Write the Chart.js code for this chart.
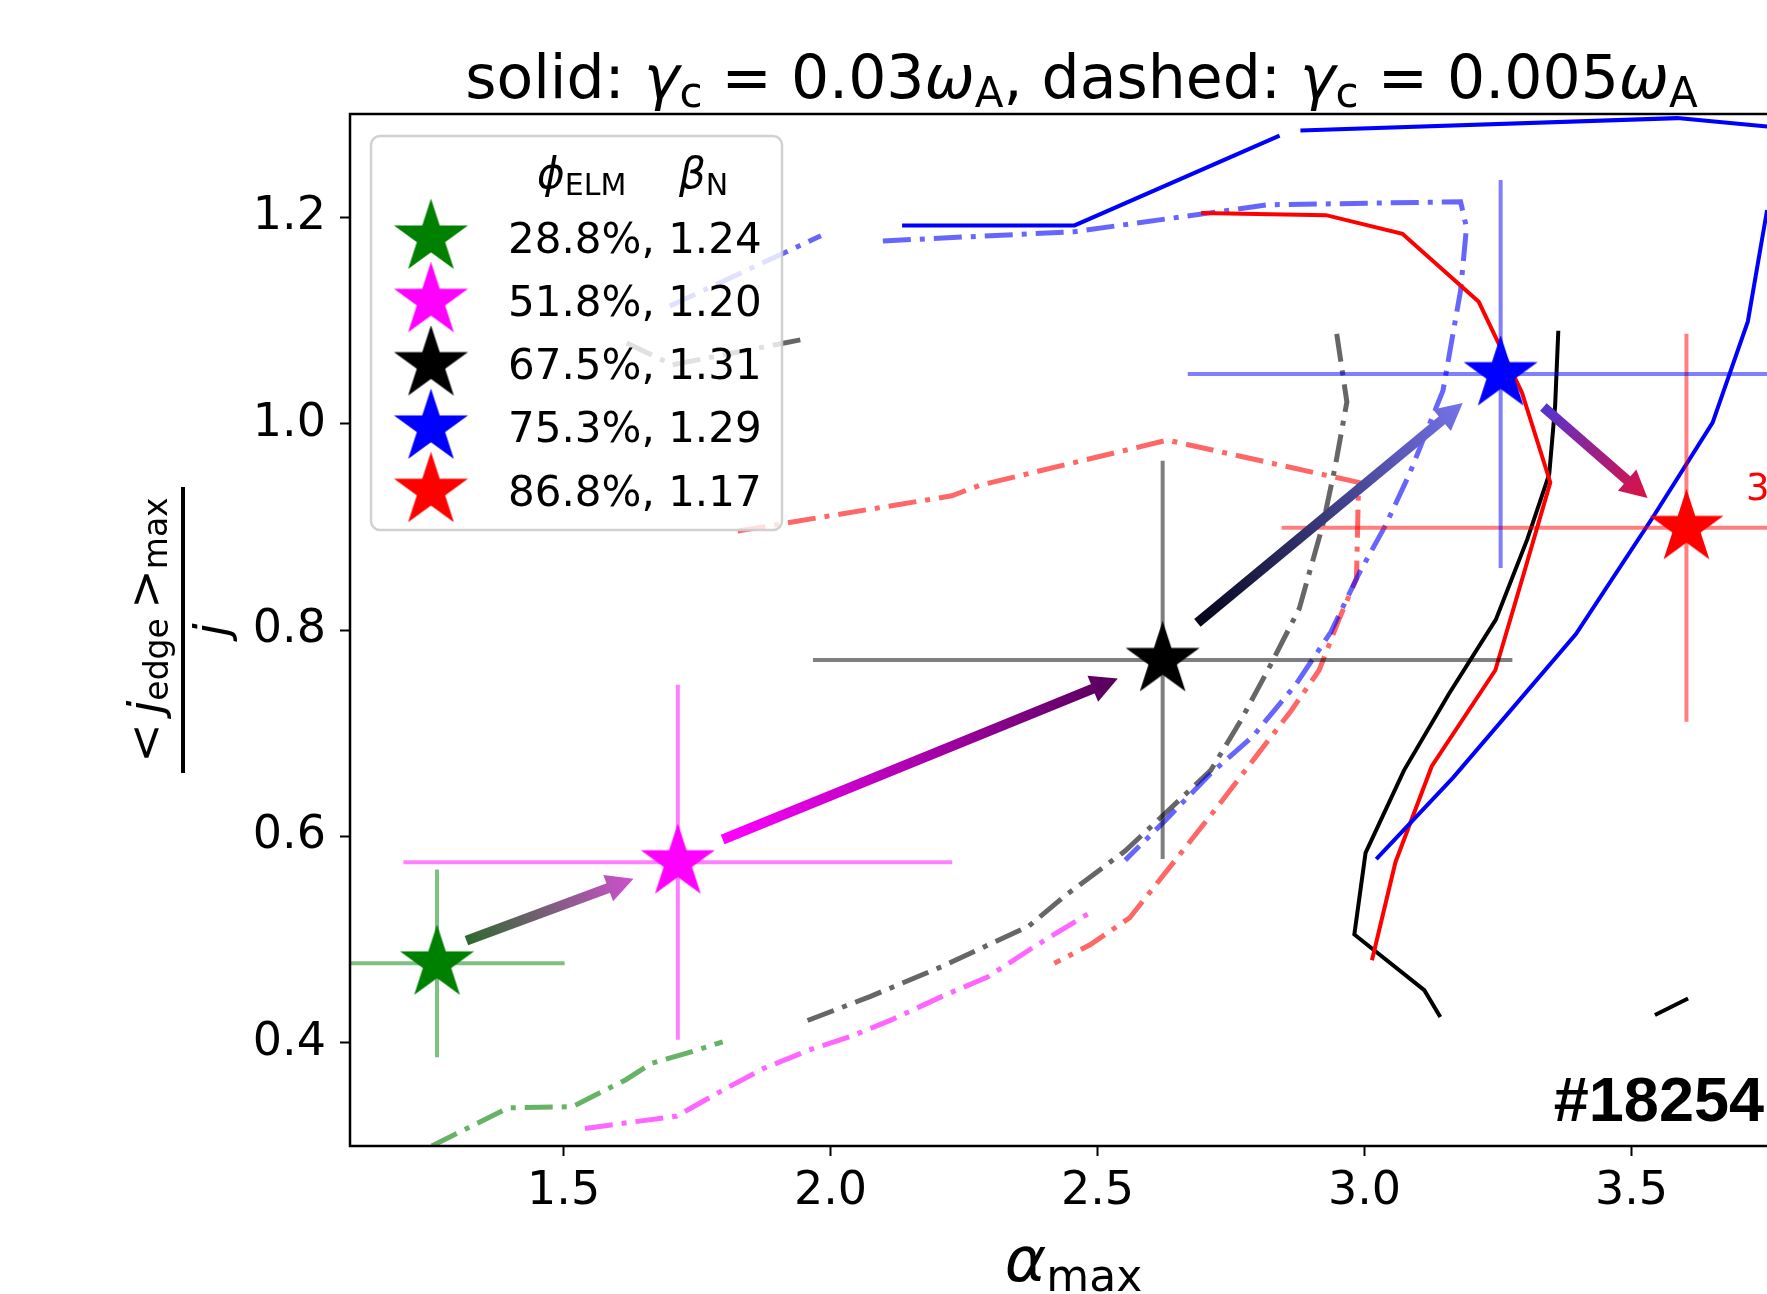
<!DOCTYPE html>
<html>
<head>
<meta charset="utf-8">
<script src="https://cdn.jsdelivr.net/npm/chart.js@4.4.1/dist/chart.umd.min.js"></script>
<style>
  html, body { margin: 0; padding: 0; background: #fff; overflow: hidden; }
  #wrap { width: 1767px; height: 1294px; overflow: hidden; }
</style>
</head>
<body>
<div id="wrap"><canvas id="c" width="1900" height="1294" style="width:1900px;height:1294px"></canvas></div>
<script>
const FONT = "'DejaVu Sans', sans-serif";

// Shots: phi_ELM, beta_N, alpha_max, <j_edge>_max / j and symmetric error bars
const phiElm = ['28.8%', '51.8%', '67.5%', '75.3%', '86.8%'];
const betaN = ['1.24', '1.20', '1.31', '1.29', '1.17'];
const shotColors = ['green', 'magenta', 'black', 'blue', 'red'];
const alphaMax = [1.263, 1.714, 2.622, 3.255, 3.603];
const jRatio = [0.477, 0.575, 0.771, 1.048, 0.899];
const alphaErr = [0.239, 0.514, 0.655, 0.586, 0.758];
const jErr = [0.091, 0.172, 0.193, 0.188, 0.188];

const xTicks = [1.5, 2.0, 2.5, 3.0, 3.5];
const yTicks = [0.4, 0.6, 0.8, 1.0, 1.2];

// solid: gamma_c = 0.03 omega_A  (null = break in the curve)
const blueSolidTop = [[2.134, 1.192], [2.457, 1.192], [2.841, 1.279], null, [2.880, 1.284], [3.586, 1.296], [3.754, 1.288]];
const blueSolidRight = [[3.754, 1.207], [3.718, 1.099], [3.652, 1.001], [3.541, 0.910], [3.396, 0.796], [3.166, 0.657], [3.022, 0.578]];
const redSolid = [[2.694, 1.204], [2.928, 1.202], [3.071, 1.184], [3.214, 1.118], [3.250, 1.079], [3.295, 1.030], [3.348, 0.943],
  [3.298, 0.854], [3.245, 0.761], [3.126, 0.668], [3.058, 0.575], [3.014, 0.480]];
const blackSolid = [[3.363, 1.090], [3.357, 1.017], [3.346, 0.951], [3.305, 0.888], [3.246, 0.810], [3.158, 0.738], [3.074, 0.664],
  [3.002, 0.584], [2.981, 0.505], [3.112, 0.451], [3.142, 0.425], null, [3.544, 0.427], [3.606, 0.443]];

// dash-dot: gamma_c = 0.005 omega_A
const blueDash = [[1.699, 1.114], [1.982, 1.182], null, [2.098, 1.177], [2.457, 1.186], [2.819, 1.212], [3.180, 1.215], [3.191, 1.190],
  [3.180, 1.129], [3.147, 1.032], [3.084, 0.951], [3.040, 0.902], [2.989, 0.854], [2.937, 0.798], [2.871, 0.747], [2.791, 0.697],
  [2.712, 0.661], [2.624, 0.614], [2.552, 0.577]];
const redDash = [[1.826, 0.896], [2.227, 0.930], [2.278, 0.940], [2.631, 0.984], [2.989, 0.943], [2.985, 0.850], [2.952, 0.810],
  [2.915, 0.761], [2.863, 0.722], [2.799, 0.679], [2.719, 0.625], [2.632, 0.568], [2.560, 0.521], [2.486, 0.495], [2.419, 0.477]];
const blackDash = [[1.618, 1.078], [1.704, 1.057], [1.952, 1.082], null, [2.948, 1.087], [2.967, 1.021], [2.945, 0.958], [2.922, 0.902],
  [2.878, 0.821], [2.823, 0.765], [2.767, 0.711], [2.712, 0.664], [2.624, 0.621], [2.552, 0.586], [2.438, 0.542], [2.371, 0.513],
  [2.209, 0.474], [2.075, 0.445], [1.954, 0.421]];
const magentaDash = [[1.540, 0.317], [1.712, 0.329], [1.798, 0.354], [1.874, 0.375], [1.960, 0.393], [2.037, 0.406], [2.113, 0.422],
  [2.209, 0.445], [2.295, 0.464], [2.381, 0.493], [2.495, 0.529]];
const greenDash = [[1.253, 0.300], [1.397, 0.337], [1.516, 0.338], [1.616, 0.364], [1.664, 0.380], [1.731, 0.390], [1.798, 0.401]];

// arrows between consecutive shots: [alpha0, j0, alpha1, j1]
const arrows = [[1.318, 0.499, 1.631, 0.559], [1.798, 0.597, 2.538, 0.753], [2.687, 0.807, 3.184, 1.020], [3.335, 1.016, 3.530, 0.928]];
const arrowColors = [['#2d6a2d', '#cf50cf'], ['#ff00ff', '#55005a'], ['#05051a', '#7474ea'], ['#5533cf', '#de1040']];

const RGB = { green: [0, 128, 0], magenta: [255, 0, 255], black: [0, 0, 0], blue: [0, 0, 255], red: [255, 0, 0] };
const rgba = (c, a) => `rgba(${RGB[c].join(',')},${a})`;
const pts = arr => arr.map(p => p ? { x: p[0], y: p[1] } : { x: null, y: null });

/** Filled five-pointed star, like matplotlib's '*' marker. */
function starImage(color, R) {
  const size = Math.ceil(2 * R + 4);
  const cv = document.createElement('canvas');
  cv.width = cv.height = size;
  const c = cv.getContext('2d');
  const m = size / 2;
  c.beginPath();
  for (let k = 0; k < 10; k++) {
    const r = k % 2 ? R * 0.381966 : R;
    const a = -Math.PI / 2 + k * Math.PI / 5;
    c.lineTo(m + r * Math.cos(a), m + r * Math.sin(a));
  }
  c.closePath();
  c.fillStyle = color; c.fill();
  c.strokeStyle = color; c.lineWidth = 1.5; c.stroke();
  return cv;
}
const stars = shotColors.map(c => starImage(c, 36.5));

function lineDs(data, color, dashed) {
  return {
    data: pts(data), showLine: true, spanGaps: false, pointRadius: 0, order: dashed ? 4 : 3,
    borderColor: dashed ? rgba(color, 0.6) : color, borderWidth: dashed ? 5 : 4,
    borderDash: dashed ? [28, 9, 5, 9] : [], tension: 0,
  };
}

const datasets = [
  { data: alphaMax.map((x, i) => ({ x, y: jRatio[i] })), showLine: false, pointStyle: stars, pointRadius: 36, order: 0 },
];
shotColors.forEach((c, i) => {
  const a = alphaMax[i], j = jRatio[i];
  datasets.push({
    data: pts([[a - alphaErr[i], j], [a + alphaErr[i], j], null, [a, j - jErr[i]], [a, j + jErr[i]]]),
    showLine: true, spanGaps: false, pointRadius: 0, borderColor: rgba(c, 0.5), borderWidth: 4, order: 2,
  });
});
datasets.push(
  lineDs(blueSolidTop, 'blue'), lineDs(blueSolidRight, 'blue'), lineDs(redSolid, 'red'), lineDs(blackSolid, 'black'),
  lineDs(blueDash, 'blue', true), lineDs(redDash, 'red', true), lineDs(blackDash, 'black', true),
  lineDs(magentaDash, 'magenta', true), lineDs(greenDash, 'green', true),
);

/** Draw a run of text pieces (normal / italic / sub) on one baseline. */
function drawRich(ctx, parts, x, y, align) {
  let w = 0;
  parts.forEach(p => {
    ctx.font = (p.i ? 'italic ' : '') + p.s + 'px ' + FONT;
    p.w = ctx.measureText(p.t).width; w += p.w;
  });
  let cx = align === 'center' ? x - w / 2 : x;
  ctx.textAlign = 'left'; ctx.textBaseline = 'alphabetic';
  parts.forEach(p => {
    ctx.font = (p.i ? 'italic ' : '') + p.s + 'px ' + FONT;
    ctx.fillText(p.t, cx, y + (p.dy || 0));
    cx += p.w;
  });
}

function drawArrow(ctx, x0, y0, x1, y1, c0, c1) {
  const L = Math.hypot(x1 - x0, y1 - y0), ux = (x1 - x0) / L, uy = (y1 - y0) / L;
  const hl = 27, hw = 14;
  const bx = x1 - ux * hl, by = y1 - uy * hl;
  const g = ctx.createLinearGradient(x0, y0, x1, y1);
  g.addColorStop(0, c0); g.addColorStop(1, c1);
  ctx.save();
  ctx.strokeStyle = g; ctx.lineWidth = 10; ctx.lineCap = 'butt';
  ctx.beginPath(); ctx.moveTo(x0, y0); ctx.lineTo(bx + ux, by + uy); ctx.stroke();
  ctx.fillStyle = g;
  ctx.beginPath(); ctx.moveTo(x1, y1);
  ctx.lineTo(bx - uy * hw, by + ux * hw); ctx.lineTo(bx + uy * hw, by - ux * hw);
  ctx.closePath(); ctx.fill();
  ctx.restore();
}

const overlay = {
  id: 'overlay',
  afterDatasetsDraw(chart) {
    const { ctx, chartArea: ca, scales: { x, y } } = chart;
    // arrows
    ctx.save();
    ctx.beginPath(); ctx.rect(ca.left, ca.top, ca.right - ca.left, ca.bottom - ca.top); ctx.clip();
    arrows.forEach((a, i) => drawArrow(ctx, x.getPixelForValue(a[0]), y.getPixelForValue(a[1]),
      x.getPixelForValue(a[2]), y.getPixelForValue(a[3]), arrowColors[i][0], arrowColors[i][1]));
    // annotations
    ctx.fillStyle = 'red'; ctx.font = '37px ' + FONT; ctx.textAlign = 'left'; ctx.textBaseline = 'alphabetic';
    ctx.fillText('3', ca.left + 1396, ca.top + 386);
    ctx.fillStyle = '#000'; ctx.font = "bold 63px 'Liberation Sans', Arial, sans-serif"; ctx.textAlign = 'right';
    ctx.fillText('#18254', ca.left + 1414, ca.top + 1007);
    ctx.restore();

    // frame
    ctx.save();
    ctx.strokeStyle = '#000'; ctx.lineWidth = 2.5;
    ctx.strokeRect(ca.left, ca.top, ca.right - ca.left, ca.bottom - ca.top);
    ctx.restore();

    // legend
    const lx = ca.left + 21, ly = ca.top + 22, lw = 411, lh = 394;
    ctx.save();
    ctx.beginPath(); ctx.roundRect(lx, ly, lw, lh, 9);
    ctx.fillStyle = 'rgba(255,255,255,0.8)'; ctx.fill();
    ctx.strokeStyle = 'rgba(204,204,204,0.9)'; ctx.lineWidth = 2.5; ctx.stroke();
    ctx.fillStyle = '#000';
    drawRich(ctx, [{ t: '\u03d5', s: 42, i: 1 }, { t: 'ELM', s: 30, dy: 7 }], lx + 166, ly + 52, 'left');
    drawRich(ctx, [{ t: '\u03b2', s: 42, i: 1 }, { t: 'N', s: 30, dy: 7 }], lx + 308, ly + 52, 'left');
    const rowH = 63.3;
    shotColors.forEach((c, i) => {
      const img = stars[i];
      ctx.drawImage(img, lx + 60 - img.width / 2, ly + 101.5 + i * rowH - img.height / 2);
      ctx.font = '42px ' + FONT; ctx.textAlign = 'left'; ctx.fillStyle = '#000';
      ctx.fillText(phiElm[i] + ', ' + betaN[i], lx + 137, ly + 116.5 + i * rowH);
    });
    ctx.restore();
  },
  afterDraw(chart) {
    const { ctx, chartArea: ca } = chart;
    const mid = (ca.left + ca.right) / 2;
    ctx.save();
    ctx.fillStyle = '#000';
    // title
    drawRich(ctx, [
      { t: 'solid: ', s: 60 }, { t: '\u03b3', s: 60, i: 1 }, { t: 'c', s: 42, dy: 9 }, { t: ' = 0.03', s: 60 },
      { t: '\u03c9', s: 60, i: 1 }, { t: 'A', s: 42, dy: 9 }, { t: ', dashed: ', s: 60 },
      { t: '\u03b3', s: 60, i: 1 }, { t: 'c', s: 42, dy: 9 }, { t: ' = 0.005', s: 60 },
      { t: '\u03c9', s: 60, i: 1 }, { t: 'A', s: 42, dy: 9 },
    ], mid, ca.top - 16, 'center');
    // x label
    drawRich(ctx, [{ t: '\u03b1', s: 63, i: 1 }, { t: 'max', s: 44, dy: 10 }], mid - 8, ca.bottom + 135, 'center');
    // y label: fraction, rotated
    const cy = (ca.top + ca.bottom) / 2;
    ctx.translate(183, cy);
    ctx.rotate(-Math.PI / 2);
    ctx.fillRect(-143, -2, 286, 4);
    drawRich(ctx, [{ t: '<', s: 47 }, { t: ' ', s: 30 }, { t: 'j', s: 47, i: 1 }, { t: 'edge', s: 33, dy: 7 },
      { t: ' ', s: 30 }, { t: '>', s: 47 }, { t: 'max', s: 33, dy: 6 }], 0, -22, 'center');
    drawRich(ctx, [{ t: 'j', s: 47, i: 1 }], 0, 44, 'center');
    ctx.restore();
  },
};

const tickFont = { family: FONT, size: 46 };
new Chart(document.getElementById('c'), {
  type: 'line',
  data: { datasets },
  options: {
    responsive: false, animation: false, events: [],
    layout: { padding: { top: 114, right: 87, bottom: 0, left: 0 } },
    plugins: { legend: { display: false }, tooltip: { enabled: false }, title: { display: false } },
    scales: {
      x: {
        type: 'linear', min: 1.1, max: 3.84,
        afterFit: s => { s.height = 148; },
        afterBuildTicks: s => { s.ticks = xTicks.map(v => ({ value: v })); },
        ticks: { font: tickFont, color: '#000', padding: 8, maxRotation: 0, callback: v => v.toFixed(1) },
        grid: { drawOnChartArea: false, drawTicks: true, tickLength: 10, tickWidth: 2, tickColor: '#000' },
        border: { display: false },
      },
      y: {
        type: 'linear', min: 0.3, max: 1.3,
        afterFit: s => { s.width = 350; },
        afterBuildTicks: s => { s.ticks = yTicks.map(v => ({ value: v })); },
        ticks: { font: tickFont, color: '#000', padding: 14, callback: v => v.toFixed(1) },
        grid: { drawOnChartArea: false, drawTicks: true, tickLength: 10, tickWidth: 2, tickColor: '#000' },
        border: { display: false },
      },
    },
  },
  plugins: [overlay],
});
</script>
</body>
</html>
